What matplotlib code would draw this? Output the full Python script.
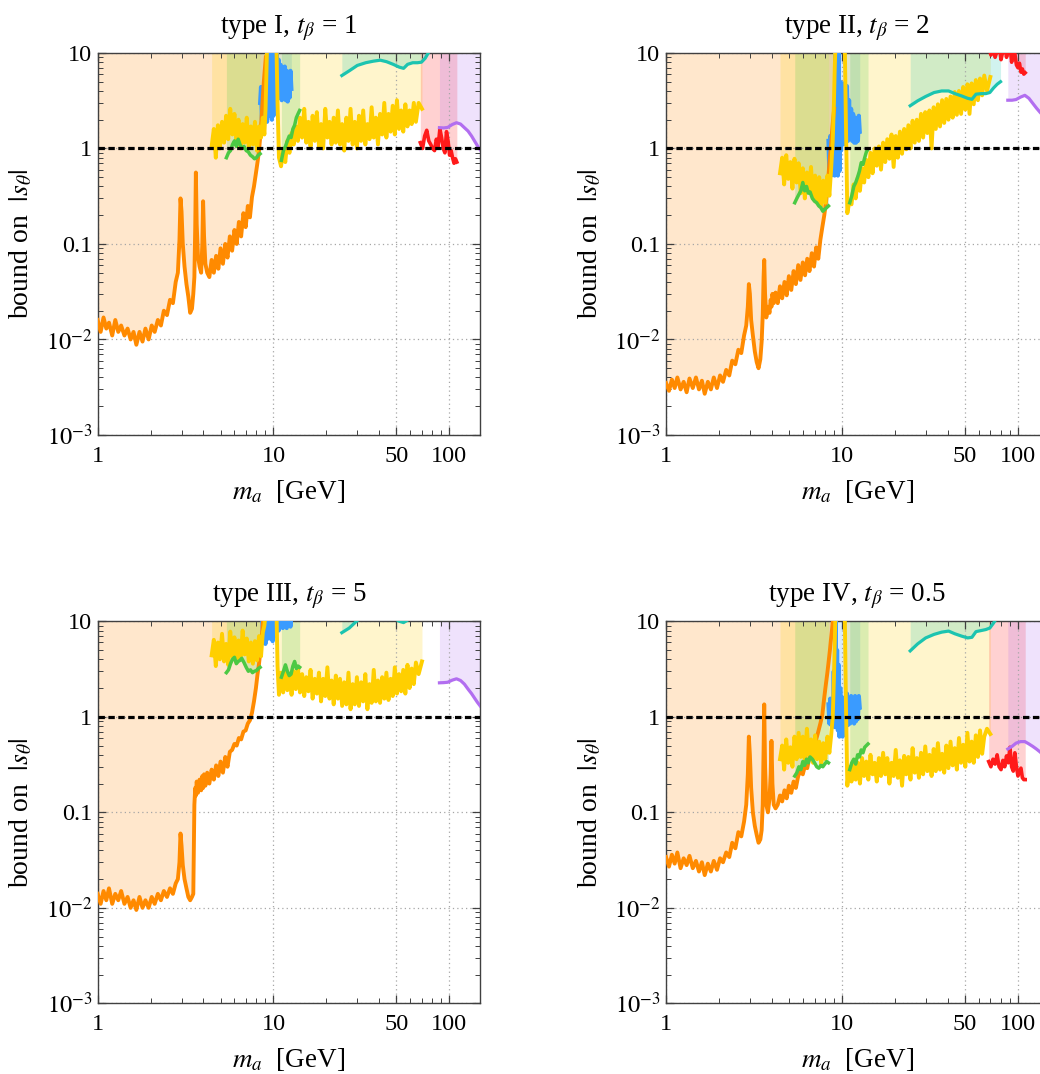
import numpy as np
import matplotlib
matplotlib.use('Agg')
import matplotlib.pyplot as plt
from matplotlib.ticker import FixedLocator, LogLocator, NullFormatter

plt.rcParams['font.family'] = ['Liberation Serif', 'DejaVu Serif']
plt.rcParams['mathtext.fontset'] = 'stix'

# ---------------------------------------------------------------------------
# colours of the different searches
c_orange = '#ff8a00'
c_yellow = '#ffcf00'
c_green = '#4cc944'
c_blue = '#3a9bff'
c_teal = '#1cc4b0'
c_red = '#ff1a1a'
c_purple = '#b26ef0'

titles = ['type I, $t_\\beta$ = 1', 'type II, $t_\\beta$ = 2',
          'type III, $t_\\beta$ = 5', 'type IV, $t_\\beta$ = 0.5']

x_ticks = [1, 10, 50, 100]
x_ticklabels = ['1', '10', '50', '100']
y_ticks = [1e-3, 1e-2, 0.1, 1, 10]
y_ticklabels = ['$10^{-3}$', '$10^{-2}$', '0.1', '1', '10']

# ---------------------------------------------------------------------------
# orange curve (low mass)
orange_x = [1.00, 1.04, 1.08, 1.12, 1.16, 1.21, 1.26, 1.31, 1.36, 1.42,
            1.48, 1.54, 1.60, 1.66, 1.73, 1.80, 1.87, 1.95, 2.03, 2.11,
            2.20, 2.29, 2.38, 2.48, 2.58, 2.68, 2.78, 2.86, 2.92, 2.96,
            3.00, 3.05, 3.12, 3.20, 3.28, 3.36, 3.44, 3.50, 3.55, 3.59,
            3.62, 3.66, 3.72, 3.80, 3.88, 3.94, 3.98, 4.03, 4.10, 4.20,
            4.32, 4.45, 4.58, 4.72, 4.86, 5.00, 5.16, 5.32, 5.48, 5.65,
            5.82, 6.00, 6.18, 6.36, 6.55, 6.75, 6.95, 7.15, 7.35, 7.55,
            7.75, 7.95, 8.12, 8.28, 8.42, 8.55, 8.68, 8.80, 8.92, 9.05]

t1_orange = [0.016, 0.012, 0.017, 0.013, 0.015, 0.011, 0.016, 0.012, 0.014, 0.011,
             0.013, 0.010, 0.012, 0.0088, 0.012, 0.0095, 0.013, 0.010, 0.014, 0.012,
             0.016, 0.014, 0.020, 0.018, 0.026, 0.024, 0.040, 0.050, 0.11, 0.30,
             0.22, 0.10, 0.058, 0.038, 0.028, 0.019, 0.021, 0.030, 0.045, 0.15,
             0.56, 0.16, 0.075, 0.058, 0.050, 0.10, 0.28, 0.12, 0.062, 0.050,
             0.045, 0.068, 0.050, 0.075, 0.055, 0.090, 0.062, 0.10, 0.072, 0.12,
             0.085, 0.14, 0.10, 0.17, 0.12, 0.21, 0.15, 0.25, 0.19, 0.31,
             0.40, 0.55, 0.72, 0.95, 1.35, 2.0, 3.2, 4.8, 6.5, 9.0]

t2_orange = [0.0035, 0.0029, 0.0038, 0.0031, 0.0040, 0.0030, 0.0036, 0.0028, 0.0039, 0.0031,
             0.0040, 0.0030, 0.0037, 0.0027, 0.0036, 0.0030, 0.0040, 0.0031, 0.0042, 0.0036,
             0.0048, 0.0042, 0.0060, 0.0055, 0.0078, 0.0072, 0.0110, 0.0140, 0.022, 0.038,
             0.030, 0.016, 0.011, 0.0075, 0.0058, 0.0050, 0.0062, 0.0095, 0.018, 0.045,
             0.068, 0.030, 0.017, 0.022, 0.019, 0.026, 0.022, 0.030, 0.024, 0.031,
             0.024, 0.036, 0.027, 0.040, 0.029, 0.046, 0.033, 0.052, 0.038, 0.060,
             0.042, 0.064, 0.047, 0.070, 0.052, 0.080, 0.058, 0.092, 0.070, 0.11,
             0.15, 0.20, 0.27, 0.38, 0.55, 0.80, 1.05, 1.5, 2.0, 2.6]

t3_orange = [0.014, 0.011, 0.015, 0.012, 0.016, 0.011, 0.014, 0.012, 0.015, 0.011,
             0.013, 0.010, 0.012, 0.0095, 0.013, 0.010, 0.012, 0.010, 0.013, 0.011,
             0.014, 0.012, 0.015, 0.013, 0.016, 0.014, 0.018, 0.020, 0.030, 0.060,
             0.045, 0.028, 0.020, 0.016, 0.013, 0.012, 0.013, 0.014, 0.12, 0.18,
             0.15, 0.21, 0.16, 0.22, 0.17, 0.24, 0.18, 0.25, 0.19, 0.26,
             0.20, 0.28, 0.22, 0.31, 0.24, 0.34, 0.26, 0.38, 0.30, 0.43,
             0.45, 0.52, 0.50, 0.60, 0.58, 0.70, 0.72, 0.85, 0.92, 1.10,
             1.45, 2.0, 2.8, 3.6, 4.8, 6.5, 9.0, 12, 15, 18]

t4_orange = [0.034, 0.027, 0.036, 0.029, 0.038, 0.026, 0.033, 0.028, 0.035, 0.026,
             0.031, 0.024, 0.030, 0.022, 0.029, 0.024, 0.031, 0.025, 0.033, 0.030,
             0.038, 0.034, 0.048, 0.042, 0.062, 0.056, 0.080, 0.12, 0.25, 0.62,
             0.40, 0.18, 0.10, 0.072, 0.058, 0.048, 0.052, 0.065, 0.12, 0.45,
             1.35, 0.30, 0.12, 0.10, 0.14, 0.25, 0.56, 0.20, 0.12, 0.11,
             0.12, 0.15, 0.13, 0.17, 0.14, 0.19, 0.16, 0.21, 0.18, 0.24,
             0.27, 0.25, 0.31, 0.29, 0.38, 0.42, 0.50, 0.58, 0.70, 0.85,
             1.05, 1.6, 2.2, 2.9, 3.8, 4.9, 6.5, 8.2, 10.5, 13]

# ---------------------------------------------------------------------------
# yellow curve, below and above the Upsilon gap
yel_xa = [4.45, 4.58, 4.70, 4.83, 4.96, 5.10, 5.24, 5.38, 5.53, 5.68,
          5.84, 6.00, 6.16, 6.33, 6.50, 6.68, 6.86, 7.05, 7.24, 7.44,
          7.64, 7.85, 8.06, 8.28, 8.50, 8.70, 8.88, 9.02, 9.12, 9.20]
yel_xb = [10.40, 10.55, 10.75, 11.05, 11.36, 11.68, 12.00, 12.34, 12.68, 13.04,
          13.40, 13.78, 14.16, 14.56, 14.97, 15.38, 15.81, 16.26, 16.71, 17.18,
          17.66, 18.15, 18.66, 19.18, 19.72, 20.27, 20.84, 21.42, 22.02, 22.64,
          23.27, 23.92, 24.59, 25.28, 25.99, 26.72, 27.46, 28.23, 29.02, 29.84,
          30.67, 31.53, 32.41, 33.32, 34.25, 35.21, 36.20, 37.21, 38.25, 39.32,
          40.42, 41.55, 42.72, 43.91, 45.14, 46.41, 47.71, 49.04, 50.42, 51.83,
          53.28, 54.77, 56.30, 57.88, 59.50, 61.17, 62.88, 64.64, 67.00, 70.00]

t1_yel_a = [1.05, 1.60, 0.80, 1.75, 1.00, 1.90, 1.15, 2.20, 1.25, 2.60,
            1.40, 2.30, 1.20, 2.00, 1.00, 1.80, 1.15, 2.10, 1.00, 1.70,
            1.10, 1.90, 0.95, 1.70, 1.30, 2.10, 1.40, 2.60, 6.00, 12.0]
t1_yel_b = [12.0, 3.00, 0.80, 0.65, 0.95, 0.72, 1.20, 0.90, 1.45, 1.10,
            1.70, 1.20, 2.10, 1.30, 2.60, 1.15, 1.90, 1.05, 2.20, 1.20,
            2.40, 1.05, 1.80, 1.00, 2.60, 1.30, 1.90, 1.10, 2.10, 1.15,
            2.50, 1.10, 1.80, 0.95, 2.10, 1.20, 2.60, 1.10, 1.90, 1.00,
            2.20, 1.20, 2.50, 1.10, 1.80, 1.25, 2.70, 1.30, 2.10, 1.10,
            2.30, 1.40, 3.00, 1.30, 2.30, 1.50, 2.80, 1.40, 3.20, 1.60,
            2.50, 1.50, 2.90, 1.70, 2.50, 1.80, 3.00, 1.90, 3.00, 2.60]

t2_yel_a = [0.55, 0.80, 0.42, 0.85, 0.48, 0.72, 0.38, 0.78, 0.44, 0.70,
            0.34, 0.62, 0.30, 0.56, 0.36, 0.64, 0.30, 0.52, 0.27, 0.50,
            0.25, 0.46, 0.27, 0.52, 0.32, 0.62, 1.20, 3.00, 7.00, 12.0]
t2_yel_b = [12.0, 2.00, 0.21, 0.28, 0.26, 0.42, 0.30, 0.50, 0.36, 0.62,
            0.44, 0.76, 0.50, 0.90, 0.55, 1.00, 0.66, 1.05, 0.60, 1.15,
            0.72, 1.25, 0.78, 1.40, 0.64, 1.35, 0.80, 1.50, 0.88, 1.60,
            0.98, 1.75, 1.00, 1.95, 1.15, 2.00, 1.20, 2.30, 1.30, 2.40,
            1.45, 2.50, 1.00, 2.70, 1.60, 2.90, 1.70, 3.20, 1.85, 3.30,
            2.00, 3.50, 2.10, 3.90, 2.25, 4.00, 2.30, 4.40, 2.55, 4.70,
            2.30, 4.80, 2.90, 5.20, 3.20, 5.40, 3.60, 5.80, 4.00, 5.60]

t3_yel_a = [4.4, 6.4, 3.4, 6.0, 4.0, 7.4, 3.8, 5.8, 3.5, 7.8,
            4.3, 6.8, 3.7, 6.3, 4.1, 8.0, 4.5, 6.6, 3.8, 6.0,
            3.6, 6.2, 3.9, 7.0, 4.3, 7.6, 9.0, 12.0, 14.0, 16.0]
t3_yel_b = [14.0, 3.40, 1.70, 2.90, 1.80, 3.10, 1.90, 2.70, 1.70, 3.00,
            1.95, 3.30, 1.80, 2.80, 1.65, 2.60, 1.85, 3.10, 1.55, 2.50,
            1.75, 2.90, 1.45, 2.50, 1.65, 3.30, 1.55, 2.40, 1.35, 2.70,
            1.55, 2.50, 1.30, 2.30, 1.35, 2.90, 1.20, 2.20, 1.35, 2.60,
            1.30, 2.30, 1.45, 2.80, 1.20, 2.20, 1.40, 3.10, 1.45, 2.40,
            1.40, 2.60, 1.55, 2.90, 1.50, 2.50, 1.65, 3.30, 1.75, 2.80,
            1.85, 3.10, 1.75, 3.50, 2.00, 3.20, 2.20, 3.70, 2.80, 3.80]

t4_yel_a = [0.36, 0.50, 0.28, 0.58, 0.33, 0.48, 0.30, 0.62, 0.36, 0.68,
            0.38, 0.62, 0.34, 0.75, 0.40, 0.58, 0.33, 0.64, 0.36, 0.55,
            0.31, 0.53, 0.36, 0.62, 0.42, 0.64, 1.00, 2.50, 6.00, 12.0]
t4_yel_b = [12.0, 1.50, 0.19, 0.30, 0.21, 0.35, 0.22, 0.33, 0.20, 0.37,
            0.24, 0.34, 0.22, 0.40, 0.25, 0.33, 0.21, 0.37, 0.24, 0.42,
            0.25, 0.37, 0.20, 0.33, 0.24, 0.45, 0.23, 0.35, 0.19, 0.39,
            0.25, 0.38, 0.22, 0.47, 0.26, 0.37, 0.23, 0.42, 0.25, 0.49,
            0.27, 0.40, 0.24, 0.46, 0.27, 0.53, 0.28, 0.41, 0.26, 0.50,
            0.29, 0.55, 0.31, 0.47, 0.28, 0.60, 0.33, 0.51, 0.30, 0.68,
            0.34, 0.55, 0.33, 0.64, 0.38, 0.72, 0.41, 0.62, 0.75, 0.66]

# ---------------------------------------------------------------------------
# green curve (two windows)
green_xa = [5.40, 5.55, 5.70, 5.85, 6.00, 6.15, 6.30, 6.45, 6.60,
            6.80, 7.00, 7.20, 7.40, 7.60, 7.80, 8.00, 8.20, 8.40]
green_xb = [11.10, 11.40, 11.70, 12.00, 12.30, 12.60, 12.90, 13.20, 13.50, 13.80, 14.10]

t1_green_a = [0.80, 0.90, 0.95, 1.10, 1.20, 1.05, 1.25, 1.10, 1.00,
              1.05, 0.95, 0.92, 0.85, 0.82, 0.78, 0.80, 0.85, 0.88]
t1_green_b = [0.75, 0.95, 1.05, 1.20, 1.35, 1.30, 1.60, 1.75, 2.10, 2.30, 2.50]
t2_green_a = [0.27, 0.30, 0.33, 0.36, 0.44, 0.36, 0.40, 0.34, 0.35,
              0.30, 0.28, 0.27, 0.25, 0.24, 0.22, 0.23, 0.24, 0.25]
t2_green_b = [0.27, 0.32, 0.40, 0.44, 0.50, 0.58, 0.71, 0.68, 0.80, 0.92, 0.98]
t3_green_a = [2.9, 3.1, 3.6, 4.0, 4.2, 3.6, 3.8, 3.9, 4.1,
              3.7, 3.3, 3.0, 3.1, 2.9, 3.0, 3.05, 3.2, 3.3]
t3_green_b = [2.6, 3.0, 3.5, 3.0, 2.7, 2.8, 3.4, 3.8, 3.2, 3.4, 3.3]
t4_green_a = [0.24, 0.26, 0.30, 0.28, 0.34, 0.31, 0.36, 0.33, 0.38,
              0.36, 0.33, 0.30, 0.29, 0.31, 0.30, 0.32, 0.34, 0.33]
t4_green_b = [0.28, 0.33, 0.36, 0.32, 0.40, 0.38, 0.45, 0.42, 0.48, 0.50, 0.52]

# ---------------------------------------------------------------------------
# blue curve (Upsilon region)
blue_x = [8.40, 8.50, 8.60, 8.70, 8.80, 8.90, 9.00, 9.10, 9.20, 9.30,
          9.40, 9.50, 9.60, 9.70, 9.80, 9.90, 10.00, 10.10, 10.20, 10.30,
          10.40, 10.55, 10.70, 10.85, 11.00, 11.15, 11.30, 11.45, 11.60, 11.75,
          11.90, 12.05, 12.20, 12.35, 12.50, 12.65]

t1_blue = [3.0, 4.4, 2.0, 4.0, 1.9, 4.6, 2.2, 8.0, 1.9, 12.0,
           2.2, 12.0, 2.6, 11.0, 2.0, 12.0, 2.2, 7.0, 12.0, 3.5,
           12.0, 4.5, 8.5, 3.4, 7.5, 3.2, 7.0, 3.4, 7.2, 3.2,
           6.5, 3.1, 6.0, 3.4, 6.5, 4.2]
t2_blue = [1.2, 0.55, 1.35, 0.52, 1.2, 0.55, 1.5, 0.52, 12.0, 0.55,
           8.0, 0.52, 12.0, 0.58, 5.0, 0.95, 4.2, 1.1, 4.8, 1.3,
           3.8, 1.1, 4.5, 1.2, 3.2, 1.3, 2.6, 1.2, 2.3, 1.15,
           2.1, 1.15, 2.0, 1.2, 2.2, 1.5]
t3_blue = [12.0, 12.0, 12.0, 8.0, 6.0, 9.0, 5.8, 8.5, 6.5, 12.0,
           12.0, 7.0, 9.5, 6.5, 12.0, 6.2, 8.0, 12.0, 7.0, 12.0,
           9.0, 12.0, 8.0, 12.0, 9.5, 12.0, 8.5, 12.0, 9.0, 12.0,
           8.5, 12.0, 9.0, 12.0, 8.8, 12.0]
t4_blue = [1.35, 0.85, 1.55, 0.82, 1.45, 0.85, 3.0, 0.78, 12.0, 0.9,
           5.0, 0.72, 3.5, 0.62, 2.0, 0.78, 1.6, 0.62, 1.5, 0.82,
           1.6, 0.85, 1.75, 0.82, 1.5, 0.85, 1.65, 0.9, 1.55, 0.85,
           1.65, 0.9, 1.55, 0.95, 1.65, 1.25]

# ---------------------------------------------------------------------------
# teal, red and purple curves (high mass)
teal_x = [24.5, 27.0, 30.0, 33.5, 37.0, 40.5, 44.0, 48.0, 52.0,
          55.0, 58.0, 62.0, 66.0, 69.5, 73.0, 76.5, 80.0]
t1_teal = [5.8, 6.5, 7.4, 7.9, 8.2, 8.4, 8.1, 7.6, 7.1,
           6.9, 7.6, 7.9, 7.9, 8.0, 8.8, 10.2, 12.0]
t2_teal = [2.8, 3.15, 3.5, 3.85, 4.0, 4.0, 3.75, 3.55, 3.35,
           3.27, 3.7, 3.75, 3.75, 3.85, 4.3, 4.7, 5.0]
t3_teal = [7.6, 8.5, 10.2, 11.5, 12.5, 13.0, 12.0, 11.0, 10.0,
           9.7, 10.3, 11.5, 12.5, 13.5, 15.0, 17.0, 19.0]
t4_teal = [4.9, 5.8, 6.7, 7.3, 7.7, 7.9, 7.4, 7.0, 6.7,
           6.8, 7.8, 8.0, 8.2, 8.5, 9.6, 11.0, 12.5]

red_x = [68.5, 70.5, 72.5, 74.5, 76.5, 78.5, 80.5, 82.5, 84.5, 86.5, 88.5,
         90.5, 92.5, 94.5, 96.5, 98.5, 100.5, 102.5, 104.5, 106.5, 108.5, 110.5]
t1_red = [1.15, 1.0, 1.35, 1.55, 1.2, 1.1, 1.0, 0.95, 1.25, 1.05, 1.6,
          1.3, 1.0, 0.9, 1.5, 1.2, 0.85, 0.95, 0.8, 0.7, 0.78, 0.72]
t2_red = [12.0, 9.5, 11.0, 9.0, 10.5, 12.0, 8.5, 10.5, 12.0, 9.0, 10.5,
          12.0, 8.0, 11.0, 9.8, 7.5, 7.0, 7.8, 6.3, 6.8, 6.0, 6.2]
t4_red = [0.34, 0.30, 0.36, 0.32, 0.40, 0.30, 0.28, 0.35, 0.30, 0.39, 0.33,
          0.48, 0.30, 0.27, 0.42, 0.30, 0.24, 0.27, 0.29, 0.23, 0.22, 0.22]

purple_x = [88, 93, 98, 104, 110, 116, 122, 128, 134, 140, 145, 150]
t1_purple = [1.65, 1.64, 1.66, 1.78, 1.86, 1.80, 1.65, 1.52, 1.35, 1.18, 1.06, 0.97]
t2_purple = [3.2, 3.2, 3.25, 3.45, 3.6, 3.35, 2.97, 2.65, 2.4, 2.2, 2.05, 1.9]
t3_purple = [2.27, 2.28, 2.3, 2.42, 2.5, 2.4, 2.2, 1.95, 1.75, 1.55, 1.41, 1.3]
t4_purple = [0.46, 0.49, 0.53, 0.55, 0.55, 0.52, 0.49, 0.46, 0.43, 0.40, 0.38, 0.36]

# ---------------------------------------------------------------------------
panels = [
    [(blue_x, t1_blue, c_blue), (orange_x, t1_orange, c_orange),
     (yel_xa, t1_yel_a, c_yellow), (yel_xb, t1_yel_b, c_yellow),
     (green_xa, t1_green_a, c_green), (green_xb, t1_green_b, c_green),
     (teal_x, t1_teal, c_teal), (red_x, t1_red, c_red), (purple_x, t1_purple, c_purple)],
    [(blue_x, t2_blue, c_blue), (orange_x, t2_orange, c_orange),
     (yel_xa, t2_yel_a, c_yellow), (yel_xb, t2_yel_b, c_yellow),
     (green_xa, t2_green_a, c_green), (green_xb, t2_green_b, c_green),
     (teal_x, t2_teal, c_teal), (red_x, t2_red, c_red), (purple_x, t2_purple, c_purple)],
    [(blue_x, t3_blue, c_blue), (orange_x, t3_orange, c_orange),
     (yel_xa, t3_yel_a, c_yellow), (yel_xb, t3_yel_b, c_yellow),
     (green_xa, t3_green_a, c_green), (green_xb, t3_green_b, c_green),
     (teal_x, t3_teal, c_teal), (purple_x, t3_purple, c_purple)],
    [(blue_x, t4_blue, c_blue), (orange_x, t4_orange, c_orange),
     (yel_xa, t4_yel_a, c_yellow), (yel_xb, t4_yel_b, c_yellow),
     (green_xa, t4_green_a, c_green), (green_xb, t4_green_b, c_green),
     (teal_x, t4_teal, c_teal), (red_x, t4_red, c_red), (purple_x, t4_purple, c_purple)],
]

# axes rectangles in figure fractions (the right column runs off the page)
rects = [[0.0939, 0.595, 0.3678, 0.3557], [0.6404, 0.595, 0.3678, 0.3557],
         [0.0939, 0.0658, 0.3678, 0.3557], [0.6404, 0.0658, 0.3678, 0.3557]]

line_w = {c_orange: 2.8, c_yellow: 2.8, c_blue: 3.0, c_red: 2.6,
          c_green: 2.5, c_teal: 2.3, c_purple: 2.3}

fig = plt.figure(figsize=(10.4, 10.74), dpi=100)

for rect, title, curves in zip(rects, titles, panels):
    ax = fig.add_axes(rect)
    ax.set_xscale('log')
    ax.set_yscale('log')

    # excluded regions: everything above each bound
    for x, y, c in curves:
        ax.fill_between(x, y, 100, color=c, alpha=0.2, lw=0, zorder=1)
    for x, y, c in curves:
        ax.plot(x, y, color=c, lw=line_w[c], zorder=3)

    ax.axhline(1, color='k', lw=2.3, dashes=(2.0, 1.1), zorder=5)

    ax.set_xlim(1, 150)
    ax.set_ylim(1e-3, 10)
    ax.xaxis.set_major_locator(FixedLocator(x_ticks))
    ax.xaxis.set_minor_locator(LogLocator(base=10, subs=np.arange(2, 10), numticks=20))
    ax.xaxis.set_minor_formatter(NullFormatter())
    ax.set_xticklabels(x_ticklabels)
    ax.yaxis.set_major_locator(FixedLocator(y_ticks))
    ax.yaxis.set_minor_locator(LogLocator(base=10, subs=np.arange(2, 10), numticks=20))
    ax.yaxis.set_minor_formatter(NullFormatter())
    ax.set_yticklabels(y_ticklabels)

    ax.grid(True, which='major', color='0.65', ls=(0, (1, 2.5)), lw=0.9, zorder=0)
    ax.tick_params(which='both', direction='in', top=True, right=True,
                   labelsize=17.5, color='0.25')
    ax.tick_params(which='major', length=6, width=0.9)
    ax.tick_params(which='minor', length=3.5, width=0.7)
    ax.tick_params(axis='x', pad=8)
    ax.tick_params(axis='y', pad=4)
    for s in ax.spines.values():
        s.set_color('0.25')
        s.set_linewidth(1.0)

    ax.set_title(title, fontsize=19.5, pad=14)
    ax.set_xlabel('$m_a$  [GeV]', fontsize=19.5)
    ax.set_ylabel('bound on  $|s_\\theta|$', fontsize=20)
    ax.xaxis.set_label_coords(0.5, -0.112)
    ax.yaxis.set_label_coords(-0.165, 0.5)

fig.savefig('out.png', dpi=100)
